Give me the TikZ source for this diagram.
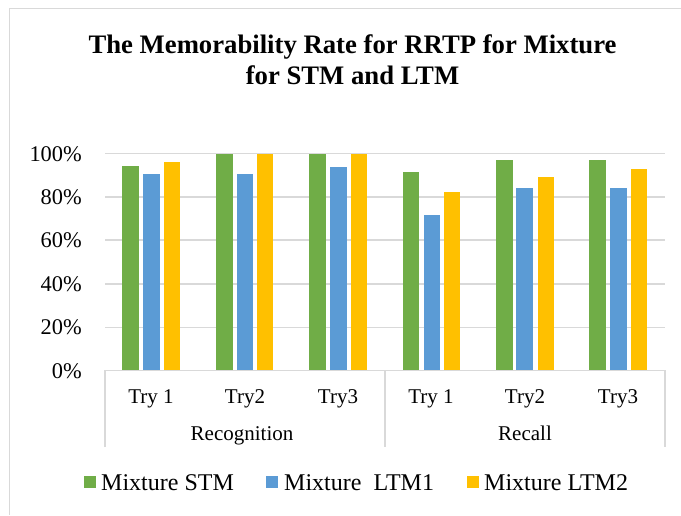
\documentclass[tikz,border=0pt]{standalone}
\usepackage{fontspec}
\setmainfont{Liberation Serif}
\definecolor{gridgray}{HTML}{D9D9D9}
\definecolor{barG}{HTML}{70AD47}
\definecolor{barB}{HTML}{5B9BD5}
\definecolor{barY}{HTML}{FFC000}
\tikzset{
  gridline/.style={draw=gridgray,line width=1.4pt},
  frameline/.style={draw=gridgray,line width=1.8pt},
  ticklabel/.style={anchor=east,inner sep=0pt,font=\fontsize{22.4}{24}\selectfont},
  catlabel/.style={anchor=base,inner sep=0pt,font=\fontsize{21}{24}\selectfont},
  leglabel/.style={anchor=base west,inner sep=0pt,font=\fontsize{24}{26}\selectfont},
  titlelabel/.style={anchor=center,inner sep=0pt,align=center,font=\fontsize{26.7}{31}\selectfont\bfseries},
}
\newcommand{\onebar}[4]{\fill[#1] (#2,-370.7) rectangle (#3,-#4);}
\begin{document}
\begin{tikzpicture}[x=1pt,y=1pt]
\useasboundingbox (0,0) rectangle (681,-515);
\fill[white] (0,0) rectangle (681,-515);
\draw[frameline] (681,-8.5) -- (9.5,-8.5) -- (9.5,-515);
\node[titlelabel] (title) at (352.5,-59.5) {The Memorability Rate for RRTP for Mixture\\for STM and LTM};
% gridlines
\foreach \yy/\lab in {153.7/100\%,197/80\%,240/60\%,284/40\%,327.4/20\%}{
  \draw[gridline] (105,-\yy) -- (665,-\yy);
  \node[ticklabel] at (82,-\yy) {\lab};
}
\node[ticklabel] at (82,-370.7) {0\%};
% bars
\foreach \ga/\gb/\ba/\bb/\ya/\yb/\tg/\tb/\ty in {
 122/139/143.3/159.5/163.7/180.3/166/173.7/161.7,
 215.7/232.5/237/253/257/273/153.7/173.7/153.7,
 309/326/330/346.5/351/366.7/153.7/167.3/153.7,
 402.7/419.3/423.7/440/444/460/172.3/214.7/192.3,
 496/513/516.3/533/537.7/553.7/159.7/188/177,
 589.3/606.3/610/626.7/631/647/159.7/188/169.3}{
  \onebar{barG}{\ga}{\gb}{\tg}
  \onebar{barB}{\ba}{\bb}{\tb}
  \onebar{barY}{\ya}{\yb}{\ty}
}
% axis and category separators
\draw[gridline] (105,-447) -- (105,-370.7) -- (665,-370.7) -- (665,-447);
\draw[gridline] (385,-370.7) -- (385,-447);
\foreach \cx/\lab in {151/Try 1,245/Try2,338/Try3,431/Try 1,525/Try2,618/Try3}{
  \node[catlabel] at (\cx,-403) {\lab};
}
\node[catlabel] (recog) at (242,-440.5) {Recognition};
\node[catlabel] (recall) at (525,-440.5) {Recall};
% legend
\fill[barG] (84,-476) rectangle (96,-488);
\fill[barB] (266,-476) rectangle (278,-488);
\fill[barY] (467,-476) rectangle (479,-488);
\node[leglabel] (l1) at (101,-490) {Mixture STM};
\node[leglabel] (l2) at (284,-490) {Mixture\ \ LTM1};
\node[leglabel] (l3) at (484,-490) {Mixture LTM2};
\end{tikzpicture}
\end{document}
